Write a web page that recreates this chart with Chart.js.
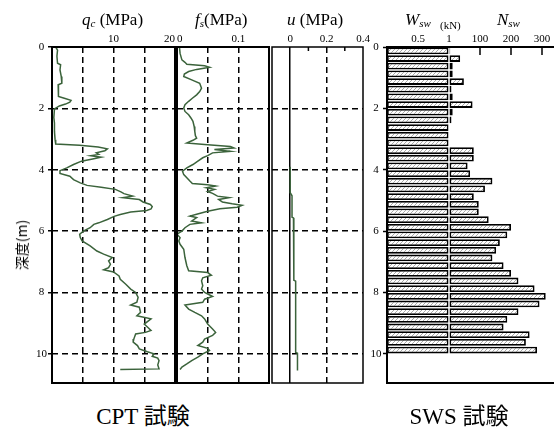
<!DOCTYPE html>
<html>
<head>
<meta charset="utf-8">
<script src="https://cdn.jsdelivr.net/npm/chart.js@4.4.0/dist/chart.umd.min.js"></script>
<style>
  html, body { margin: 0; padding: 0; background: #fff; overflow: hidden; }
  #wrap { position: relative; width: 554px; height: 437px; overflow: hidden; background: #fff;
          font-family: 'Liberation Serif', 'Noto Sans CJK JP', serif; color: #000; }
  #wrap canvas { position: absolute; top: 0; }
  .t { position: absolute; top: 11px; font-size: 17px; line-height: 17px; white-space: nowrap; }
  .t sub { font-size: 11px; font-style: italic; vertical-align: -2px; line-height: 0; }
  .cap { position: absolute; top: 405px; font-size: 23px; line-height: 23px; white-space: nowrap; transform: translateX(-50%); }
  #ylab { position: absolute; left: 21px; top: 245px; font-family: 'Noto Sans CJK JP', sans-serif; font-size: 14px;
          white-space: nowrap; transform: translate(-50%, -50%) rotate(-90deg); }
</style>
</head>
<body>
<div id="wrap">
  <canvas id="qcChart" width="180" height="395" style="left:0"></canvas>
  <canvas id="fsChart" width="120" height="395" style="left:160px"></canvas>
  <canvas id="uChart" width="120" height="395" style="left:260px"></canvas>
  <canvas id="swsChart" width="225" height="395" style="left:360px"></canvas>

  <div class="t" style="left:82px"><i>q</i><sub>c</sub> (MPa)</div>
  <div class="t" style="left:195px"><i>f</i><sub>s</sub>(MPa)</div>
  <div class="t" style="left:287px"><i>u</i> (MPa)</div>
  <div class="t" style="left:405px"><i>W</i><sub>sw</sub></div>
  <div class="t" style="left:440px; top:20px; font-size:11px; line-height:11px">(kN)</div>
  <div class="t" style="left:497px"><i>N</i><sub>sw</sub></div>

  <div id="ylab">深度(m)</div>
  <div class="cap" style="left:143px">CPT 試験</div>
  <div class="cap" style="left:459px">SWS 試験</div>
</div>

<script>
// CPT profiles (depth in m)
const qcDepth = [0.00, 0.10, 0.30, 0.53, 0.58, 0.75, 0.96, 1.18, 1.23, 1.45, 1.61, 1.67, 1.74, 1.80, 1.86, 1.92, 2.02, 2.30, 2.48, 2.75,
  3.02, 3.16, 3.20, 3.26, 3.32, 3.38, 3.45, 3.50, 3.54, 3.59, 3.65, 3.72, 3.83, 3.94, 4.03, 4.12, 4.21, 4.32, 4.43, 4.51,
  4.57, 4.64, 4.72, 4.78, 4.86, 4.91, 4.97, 5.05, 5.13, 5.20, 5.28, 5.33, 5.38, 5.46, 5.52, 5.62, 5.73, 5.78, 5.89, 6.00,
  6.10, 6.21, 6.32, 6.48, 6.65, 6.75, 6.86, 6.97, 7.08, 7.19, 7.26, 7.33, 7.46, 7.57, 7.73, 7.89, 8.00, 8.16, 8.32, 8.41,
  8.48, 8.65, 8.76, 8.86, 9.03, 9.14, 9.24, 9.30, 9.35, 9.52, 9.62, 9.73, 9.84, 9.93, 10.00, 10.08, 10.14, 10.22, 10.36, 10.49, 10.51];
const qcValue = [0.6, 0.9, 0.8, 0.9, 1.4, 1.3, 1.5, 1.6, 1.0, 1.1, 1.0, 2.0, 3.1, 2.9, 2.2, 1.2, 0.4, 0.3, 0.4, 0.4,
  0.5, 0.6, 4.5, 7.5, 9.0, 8.6, 7.2, 7.6, 6.3, 8.0, 6.6, 4.8, 3.5, 2.4, 1.3, 1.3, 2.9, 3.5, 4.6, 5.7,
  8.0, 10.3, 11.2, 11.7, 13.1, 11.5, 14.2, 14.8, 16.0, 16.3, 16.1, 15.4, 12.8, 11.1, 10.1, 9.0, 7.6, 6.8, 6.2, 5.1,
  4.5, 4.6, 4.9, 6.2, 7.3, 8.4, 9.8, 9.2, 9.5, 9.2, 8.4, 10.0, 10.9, 11.1, 12.0, 12.8, 13.6, 14.0, 13.8, 12.8,
  14.2, 14.4, 13.8, 16.1, 15.0, 15.6, 16.1, 15.2, 13.6, 13.3, 13.2, 13.9, 14.2, 15.5, 16.6, 16.3, 17.2, 17.4, 17.2, 17.4, 11.1];

const fsDepth = [0.00, 0.21, 0.42, 0.50, 0.56, 0.61, 0.66, 0.73, 0.80, 0.88, 0.96, 1.07, 1.18, 1.34, 1.45, 1.56, 1.67, 1.77, 1.88, 1.99,
  2.10, 2.21, 2.32, 2.42, 2.59, 2.75, 2.89, 2.97, 3.04, 3.13, 3.18, 3.24, 3.29, 3.34, 3.40, 3.45, 3.54, 3.61, 3.72, 3.83,
  3.94, 4.05, 4.16, 4.26, 4.37, 4.45, 4.49, 4.53, 4.59, 4.64, 4.71, 4.77, 4.86, 4.91, 4.97, 5.05, 5.11, 5.16, 5.22, 5.27,
  5.35, 5.45, 5.51, 5.56, 5.67, 5.73, 5.78, 5.89, 6.00, 6.10, 6.21, 6.32, 6.43, 6.59, 6.86, 7.13, 7.29, 7.35, 7.44, 7.52,
  7.62, 7.78, 7.89, 8.00, 8.13, 8.22, 8.32, 8.41, 8.54, 8.65, 8.76, 8.86, 9.03, 9.19, 9.30, 9.40, 9.52, 9.62, 9.73, 9.82,
  9.89, 10.00, 10.11, 10.22, 10.33, 10.43, 10.51];
const fsValue = [0.004, 0.005, 0.008, 0.013, 0.016, 0.045, 0.053, 0.032, 0.019, 0.012, 0.011, 0.024, 0.037, 0.040, 0.037, 0.032, 0.025, 0.019, 0.013, 0.011,
  0.013, 0.019, 0.023, 0.026, 0.028, 0.029, 0.030, 0.032, 0.026, 0.016, 0.045, 0.087, 0.093, 0.061, 0.087, 0.058, 0.050, 0.042, 0.034, 0.026,
  0.016, 0.009, 0.011, 0.016, 0.021, 0.025, 0.050, 0.063, 0.048, 0.061, 0.050, 0.058, 0.066, 0.085, 0.068, 0.074, 0.090, 0.106, 0.098, 0.070,
  0.050, 0.032, 0.021, 0.032, 0.024, 0.040, 0.021, 0.013, 0.008, 0.000, 0.005, 0.003, 0.005, 0.011, 0.013, 0.016, 0.019, 0.050, 0.056, 0.042,
  0.040, 0.042, 0.040, 0.045, 0.058, 0.045, 0.042, 0.013, 0.019, 0.029, 0.040, 0.045, 0.050, 0.058, 0.063, 0.058, 0.045, 0.042, 0.034, 0.050,
  0.053, 0.042, 0.034, 0.024, 0.016, 0.008, 0.005];

const uDepth = [3.90, 4.75, 4.85, 5.55, 5.57, 7.60, 7.63, 9.95, 9.98, 10.54];
const uValue = [0.000, 0.000, 0.010, 0.010, 0.018, 0.020, 0.030, 0.030, 0.040, 0.040];

// SWS: one bar per 25 cm
const swsDepth = [0.125, 0.375, 0.625, 0.875, 1.125, 1.375, 1.625, 1.875, 2.125, 2.375,
  2.625, 2.875, 3.125, 3.375, 3.625, 3.875, 4.125, 4.375, 4.625, 4.875,
  5.125, 5.375, 5.625, 5.875, 6.125, 6.375, 6.625, 6.875, 7.125, 7.375,
  7.625, 7.875, 8.125, 8.375, 8.625, 8.875, 9.125, 9.375, 9.625, 9.875];
const wswValue = [1, 1, 1, 1, 1, 1, 1, 1, 1, 1, 1, 1, 1, 1, 1, 1, 1, 1, 1, 1,
  1, 1, 1, 1, 1, 1, 1, 1, 1, 1, 1, 1, 1, 1, 1, 1, 1, 1, 1, 1];
const nswValue = [4, 36, 12, 12, 48, 8, 12, 76, 12, 8, 0, 0, 0, 80, 80, 60, 68, 140, 116, 80,
  96, 96, 128, 200, 188, 164, 152, 140, 176, 200, 224, 276, 312, 292, 224, 188, 176, 260, 248, 284];

// tick labels
const depthLabels = [0, 2, 4, 6, 8, 10];
const qcLabels = [10, 20];
const fsLabels = [0, 0.1];
const uLabels = [0, 0.2, 0.4];
const wswLabels = [0.5, 1];
const nswLabels = [100, 200, 300];

const depthMax = 10.95;
const lineGreen = '#3b633b';
const wswSpan = 200; // Nsw units taken by the 0-1 kN Wsw band

Chart.defaults.font.family = "'Liberation Serif', 'Times New Roman', serif";
Chart.defaults.font.size = 11;
Chart.defaults.color = '#000';

const near = (v, list) => list.some(t => Math.abs(v - t) < 1e-6);
const fmt = v => String(Number(v.toFixed(3)));

// box around the plot area + short inward ticks on the top axis
const framePlugin = {
  id: 'frame',
  afterDatasetsDraw(chart, args, opts) {
    const { ctx, chartArea: a } = chart;
    const xs = chart.scales.x;
    ctx.save();
    ctx.strokeStyle = '#000';
    ctx.lineWidth = opts.width || 2;
    ctx.strokeRect(a.left, a.top, a.right - a.left, a.bottom - a.top);
    ctx.lineWidth = 1.5;
    (opts.inTicks || []).forEach(v => {
      const px = xs.getPixelForValue(v);
      ctx.beginPath();
      ctx.moveTo(px, a.top);
      ctx.lineTo(px, a.top + (opts.tickLen || 5));
      ctx.stroke();
    });
    ctx.restore();
  }
};

function makeProfile(id, depths, values, ax) {
  const points = depths.map((d, i) => ({ x: values[i], y: d }));
  const lined = ax.grid.concat(ax.solid || []);
  return new Chart(document.getElementById(id), {
    type: 'scatter',
    data: { datasets: [{ data: points, showLine: true, borderColor: lineGreen, borderWidth: 1.5, pointRadius: 0, tension: 0 }] },
    options: {
      responsive: false, animation: false, devicePixelRatio: 1,
      layout: { padding: ax.padding },
      plugins: {
        legend: { display: false }, tooltip: { enabled: false },
        frame: { width: ax.frame, inTicks: ax.inTicks || [], tickLen: 4 }
      },
      scales: {
        x: {
          position: 'top', min: ax.min, max: ax.max,
          ticks: { stepSize: ax.step, padding: 1, align: ax.align || 'center', autoSkip: false, maxRotation: 0,
                   callback: v => near(v, ax.labels) ? fmt(v) : '' },
          grid: { drawTicks: false, lineWidth: 1.5,
                  color: c => (c.tick && near(c.tick.value, lined)) ? '#000' : 'rgba(0,0,0,0)' },
          border: { display: false, dash: c => (c.tick && near(c.tick.value, ax.solid || [])) ? [] : [6, 4] },
          afterFit: s => { s.height = 47; }
        },
        y: {
          min: 0, max: depthMax, reverse: true,
          ticks: { display: !!ax.depthAxis, stepSize: 2, includeBounds: false, padding: 1, crossAlign: 'center',
                   callback: v => near(v, depthLabels) ? fmt(v) : '' },
          grid: { drawTicks: !!ax.depthAxis, tickLength: 4, tickColor: '#000', tickWidth: 1.5, lineWidth: 1.5,
                  color: c => (c.tick && c.tick.value > 0) ? '#000' : 'rgba(0,0,0,0)' },
          border: { display: false, dash: [6, 4] },
          afterFit: s => { s.width = ax.depthAxis ? 52 : 0; }
        }
      }
    },
    plugins: [framePlugin]
  });
}

makeProfile('qcChart', qcDepth, qcValue, {
  min: 0, max: 20, step: 5, labels: qcLabels, grid: [5, 10, 15], align: 'inner',
  depthAxis: true, frame: 2, padding: { left: 0, right: 5, top: 0, bottom: 12 }
});
makeProfile('fsChart', fsDepth, fsValue, {
  min: 0, max: 0.15, step: 0.05, labels: fsLabels, grid: [0.05, 0.1], align: 'inner',
  frame: 2, padding: { left: 17, right: 11, top: 0, bottom: 12 }
});
makeProfile('uChart', uDepth, uValue, {
  min: -0.1, max: 0.4, step: 0.1, labels: uLabels, grid: [0.2], solid: [0], inTicks: [0.1, 0.3],
  frame: 1.5, padding: { left: 12, right: 17, top: 0, bottom: 12 }
});

// hatch fill for the SWS bars
const hatchCanvas = document.createElement('canvas');
hatchCanvas.width = 4; hatchCanvas.height = 4;
const hg = hatchCanvas.getContext('2d');
hg.fillStyle = '#fff';
hg.fillRect(0, 0, 4, 4);
hg.strokeStyle = '#a8a8a8';
hg.lineWidth = 1;
hg.beginPath();
hg.moveTo(0, 4); hg.lineTo(4, 0);
hg.moveTo(-1, 1); hg.lineTo(1, -1);
hg.moveTo(3, 5); hg.lineTo(5, 3);
hg.stroke();
const hatch = hg.createPattern(hatchCanvas, 'repeat');

const wswToAxis = w => (w - 1) * wswSpan;

const barStyle = { grouped: false, backgroundColor: hatch, borderColor: '#000', borderWidth: 1.8, borderSkipped: false,
                   barPercentage: 0.88, categoryPercentage: 1 };

new Chart(document.getElementById('swsChart'), {
  type: 'bar',
  data: {
    datasets: [
      Object.assign({ label: 'Wsw', data: swsDepth.map((d, i) => ({ x: [wswToAxis(0), wswToAxis(wswValue[i])], y: d })) }, barStyle),
      Object.assign({ label: 'Nsw', data: swsDepth.map((d, i) => ({ x: [0, nswValue[i]], y: d })) }, barStyle)
    ]
  },
  options: {
    indexAxis: 'y',
    responsive: false, animation: false, devicePixelRatio: 1,
    layout: { padding: { left: 0, right: 12, top: 0, bottom: 12 } },
    plugins: {
      legend: { display: false }, tooltip: { enabled: false },
      frame: { width: 2, inTicks: nswLabels, tickLen: 8 }
    },
    scales: {
      x: {
        type: 'linear', position: 'top', min: -200, max: 400,
        ticks: { stepSize: 100, padding: 1, autoSkip: false, maxRotation: 0,
                 callback: v => {
                   if (v > 0) return near(v, nswLabels) ? fmt(v) : '';
                   const w = 1 + v / wswSpan;
                   return near(w, wswLabels) ? fmt(w) : '';
                 } },
        grid: { drawOnChartArea: false, drawTicks: false },
        border: { display: false },
        afterFit: s => { s.height = 47; }
      },
      y: {
        type: 'linear', min: 0, max: depthMax, reverse: true, offset: false,
        ticks: { stepSize: 2, includeBounds: false, padding: 1.5, crossAlign: 'center',
                 callback: v => near(v, depthLabels) ? fmt(v) : '' },
        grid: { offset: false, drawOnChartArea: false, drawTicks: true, tickLength: 4, tickColor: '#000', tickWidth: 1.5 },
        border: { display: false },
        afterFit: s => { s.width = 27; }
      }
    }
  },
  plugins: [framePlugin]
});
</script>
</body>
</html>
